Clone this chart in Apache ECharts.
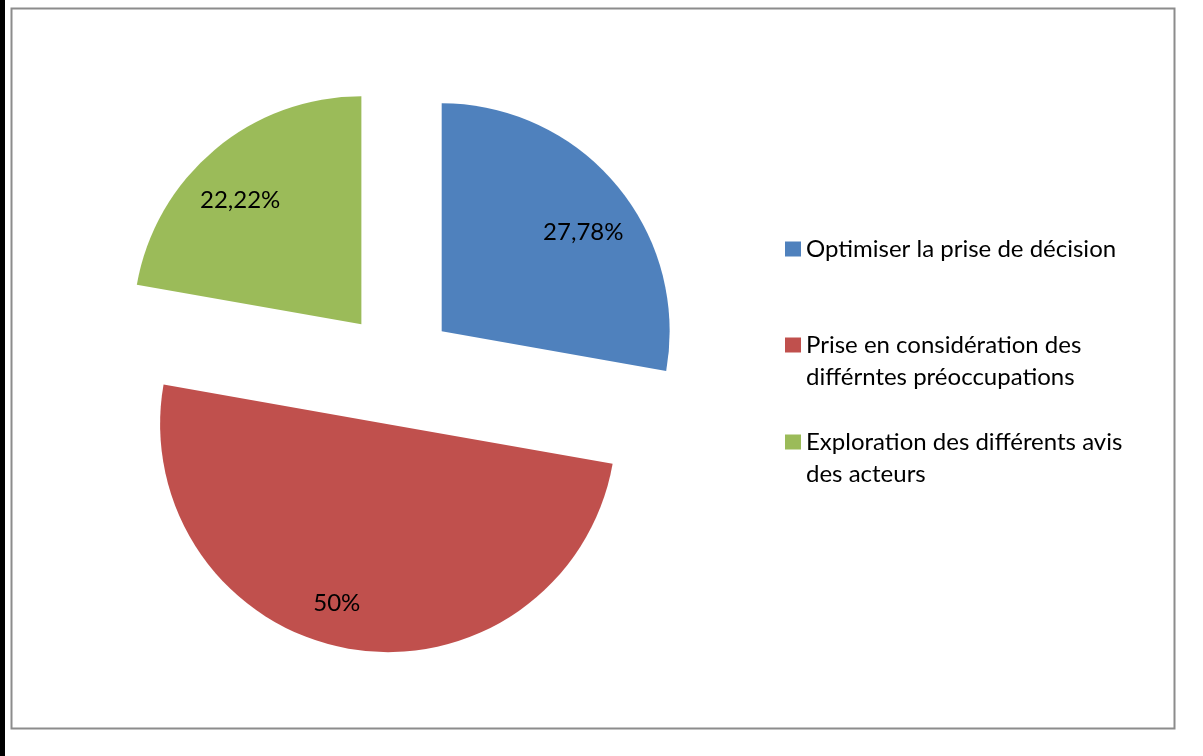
<!DOCTYPE html>
<html>
<head>
<meta charset="utf-8">
<script src="https://cdn.jsdelivr.net/npm/echarts@6/dist/echarts.min.js"></script>
<style>
html,body{margin:0;padding:0;background:#fff;}
#c{width:1203px;height:756px;}
</style>
</head>
<body>
<div id="c"></div>
<script>
const categories = ["Optimiser la prise de décision", "Prise en considération des\ndifférntes préoccupations", "Exploration des différents avis\ndes acteurs"];
const values = [27.78, 50, 22.22];
const colors = ["#4F81BD", "#C0504D", "#9BBB59"];
const labelShifts = [[52, -24], [-31, 64], [-46, -34]];
const legendTops = [233, 297, 394];

const FONT = "Lato";
const FS = 24;
const chart = echarts.init(document.getElementById('c'));

const legends = categories.map((name, i) => ({
  orient: 'vertical',
  left: 785,
  top: legendTops[i],
  padding: 0,
  itemWidth: 16,
  itemHeight: 15,
  itemGap: 0,
  selectedMode: false,
  icon: 'rect',
  data: [name],
  formatter: n => (n.indexOf('\n') >= 0 ? '\n' + n : n),
  textStyle: { fontFamily: FONT, fontSize: FS, color: '#000', lineHeight: 32 }
}));

chart.setOption({
  animation: false,
  backgroundColor: '#fff',
  color: colors,
  legend: legends,
  graphic: [
    { type: 'rect', shape: { x: 0, y: 0, width: 5, height: 756 }, style: { fill: '#000' }, silent: true },
    { type: 'rect', shape: { x: 11.5, y: 8.5, width: 1163, height: 720 }, style: { fill: null, stroke: '#8c8c8c', lineWidth: 2 }, silent: true }
  ],
  series: [{
    type: 'pie',
    center: [398, 368],
    radius: [0, 228],
    startAngle: 90,
    clockwise: true,
    selectedMode: 'multiple',
    selectedOffset: 57,
    avoidLabelOverlap: false,
    emphasis: { disabled: true },
    itemStyle: { borderWidth: 0 },
    label: {
      show: true,
      position: 'inside',
      fontFamily: FONT,
      fontSize: FS,
      color: '#000',
      formatter: p => String(p.value).replace('.', ',') + '%'
    },
    labelLine: { show: false },
    labelLayout: p => ({ dx: labelShifts[p.dataIndex][0], dy: labelShifts[p.dataIndex][1] }),
    data: categories.map((name, i) => ({
      name: name,
      value: values[i],
      selected: true
    }))
  }]
});
</script>
</body>
</html>
